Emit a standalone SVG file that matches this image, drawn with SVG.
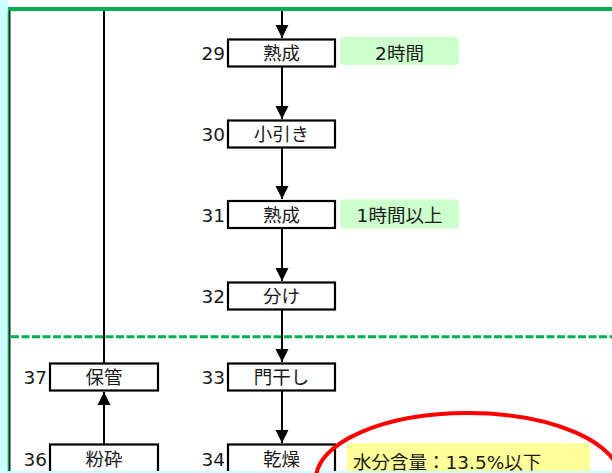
<svg xmlns="http://www.w3.org/2000/svg" width="612" height="473" viewBox="0 0 612 473">
<defs>
<style>
.box{fill:#ffffff;stroke:#000000;stroke-width:2.2}
.t{font-family:"DejaVu Sans","Noto Sans CJK JP",sans-serif;font-size:18.5px;fill:#1a1a1a}
.c{text-anchor:middle}
.n{text-anchor:end}
.ln{stroke:#000000;stroke-width:2;fill:none}
.gtag{fill:#ccffcc}
.ytag{fill:#ffff99}
</style>
<marker id="ah" markerUnits="userSpaceOnUse" markerWidth="14" markerHeight="14" viewBox="0 0 14 14" refX="13" refY="7" orient="auto">
<path d="M0,0.5 L13,7 L0,13.5 Z" fill="#000000"/>
</marker>
</defs>
<rect x="0" y="0" width="612" height="473" fill="#ccffff"/>
<rect x="8" y="0" width="604" height="471" fill="#ffffff"/>
<line x1="8.5" y1="11" x2="8.5" y2="471" stroke="#00b050" stroke-width="1.6"/>
<line x1="9.8" y1="11" x2="9.8" y2="471" stroke="#000000" stroke-width="1.3"/>
<line x1="8" y1="9" x2="612" y2="9" stroke="#00b050" stroke-width="4"/>
<line x1="11" y1="336.7" x2="612" y2="336.7" stroke="#00b050" stroke-width="3" stroke-dasharray="8,2.5"/>
<g id="connectors">
<line class="ln" x1="282" y1="11" x2="282" y2="38" marker-end="url(#ah)"/>
<line class="ln" x1="282" y1="67" x2="282" y2="119" marker-end="url(#ah)"/>
<line class="ln" x1="282" y1="148" x2="282" y2="199" marker-end="url(#ah)"/>
<line class="ln" x1="282" y1="229" x2="282" y2="281" marker-end="url(#ah)"/>
<line class="ln" x1="282" y1="310" x2="282" y2="362" marker-end="url(#ah)"/>
<line class="ln" x1="282" y1="391" x2="282" y2="443" marker-end="url(#ah)"/>
<line class="ln" x1="104" y1="444" x2="104" y2="392" marker-end="url(#ah)"/>
<line class="ln" x1="104" y1="363" x2="104" y2="11"/>
</g>
<g id="n29"><rect class="box" x="228" y="39.5" width="107" height="27"/><text class="t n" x="225" y="60">29</text><text class="t c" x="281.5" y="60">熟成</text></g>
<g id="tag29"><rect class="gtag" x="340" y="37" width="119" height="28" rx="4"/><text class="t c" x="399.5" y="59.5">2時間</text></g>
<g id="n30"><rect class="box" x="228" y="120.5" width="107" height="27"/><text class="t n" x="225" y="141">30</text><text class="t c" x="281.5" y="141">小引き</text></g>
<g id="n31"><rect class="box" x="228" y="201" width="107" height="27"/><text class="t n" x="225" y="221.5">31</text><text class="t c" x="281.5" y="221.5">熟成</text></g>
<g id="tag31"><rect class="gtag" x="340" y="199.5" width="119" height="29" rx="4"/><text class="t c" x="399.5" y="221.5">1時間以上</text></g>
<g id="n32"><rect class="box" x="228" y="282.5" width="107" height="27"/><text class="t n" x="225" y="303">32</text><text class="t c" x="281.5" y="303">分け</text></g>
<g id="n33"><rect class="box" x="228" y="363.5" width="107" height="27"/><text class="t n" x="225" y="384">33</text><text class="t c" x="281.5" y="384">門干し</text></g>
<g id="n34"><rect class="box" x="228" y="444.5" width="107" height="35"/><text class="t n" x="225" y="465.5">34</text><text class="t c" x="281.5" y="465.5">乾燥</text></g>
<g id="n37"><rect class="box" x="50" y="363.5" width="108" height="27"/><text class="t n" x="47" y="384">37</text><text class="t c" x="104" y="384">保管</text></g>
<g id="n36"><rect class="box" x="50" y="444.5" width="108" height="35"/><text class="t n" x="47" y="465.5">36</text><text class="t c" x="104" y="465.5">粉砕</text></g>
<g id="tag34"><rect class="ytag" x="347" y="443" width="243" height="40" rx="4"/><text class="t" x="353" y="468.5" font-size="20.5">水分含量：13.5%以下</text></g>
<rect x="8" y="471" width="604" height="2" fill="#ccffff"/>
<ellipse cx="468" cy="479" rx="152" ry="66" fill="none" stroke="#ff0000" stroke-width="4"/>
</svg>
